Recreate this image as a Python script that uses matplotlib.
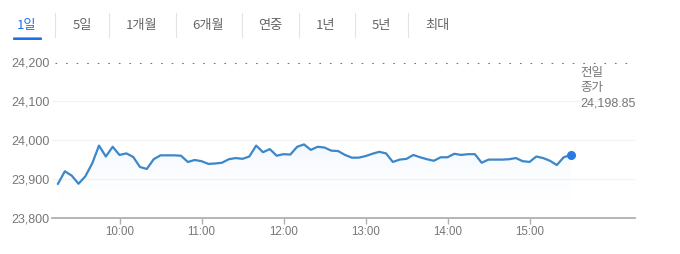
import matplotlib
matplotlib.use('Agg')
import matplotlib.pyplot as plt
import numpy as np
from matplotlib.patches import Polygon, FancyBboxPatch
from matplotlib.lines import Line2D

plt.rcParams['font.family'] = ['Liberation Sans', 'Noto Sans CJK KR', 'DejaVu Sans']

# ---- data ----
tabs = ['1일', '5일', '1개월', '6개월', '연중', '1년', '5년', '최대']
selected_tab = 0

start_hour = 9.25      # 09:15
step_minutes = 5
values = [
    23888, 23920, 23909, 23888, 23907, 23940, 23986, 23958, 23983, 23962,
    23966, 23957, 23931, 23926, 23951, 23961, 23961, 23961, 23960, 23944,
    23949, 23946, 23939, 23940, 23942, 23951, 23954, 23952, 23958, 23986,
    23969, 23977, 23960, 23964, 23963, 23983, 23989, 23975, 23983, 23981,
    23973, 23972, 23962, 23955, 23955, 23959, 23965, 23970, 23966, 23944,
    23950, 23952, 23962, 23956, 23951, 23947, 23956, 23956, 23965, 23962,
    23964, 23964, 23942, 23950, 23950, 23950, 23951, 23954, 23946, 23944,
    23958, 23954, 23947, 23936, 23956, 23962,
]
prev_close = 24198.85
prev_close_label = ['전일', '종가', '24,198.85']
yticks = [23800, 23900, 24000, 24100, 24200]
ytick_labels = ['23,800', '23,900', '24,000', '24,100', '24,200']
xticks = [10, 11, 12, 13, 14, 15]
xtick_labels = ['10:00', '11:00', '12:00', '13:00', '14:00', '15:00']

times = start_hour + np.arange(len(values)) * step_minutes / 60.0

W, H = 680, 254
fig = plt.figure(figsize=(W / 100, H / 100), dpi=100)

def fx(px):
    return px / W

def fy(py):
    return 1 - py / H

# ---- tabs ----
tab_x = [27, 82, 142, 208, 270, 326, 381, 437]
sep_x = [55, 109, 176, 242, 299, 355, 408]
for i, (t, x) in enumerate(zip(tabs, tab_x)):
    fig.text(fx(x), fy(25), t, ha='center', va='center', fontsize=9.5,
             family=['Noto Sans CJK KR', 'DejaVu Sans'],
             color='#1a73e8' if i == selected_tab else '#666666')
for x in sep_x:
    fig.add_artist(Line2D([fx(x), fx(x)], [fy(13), fy(37)], color='#e3e3e3', lw=0.8))
fig.add_artist(FancyBboxPatch((fx(13), fy(40)), fx(29), 2.6 / H,
                              boxstyle='round,pad=0,rounding_size=0.002',
                              transform=fig.transFigure, color='#1a73e8', lw=0))

# ---- chart ----
left, right, top, bottom = 52, 635, 62.3, 218
ax = fig.add_axes([fx(left), fy(bottom), (right - left) / W, (bottom - top) / H])
px_per_hour = 82.0
x0_px = 119.5
xlim = (10 + (left - x0_px) / px_per_hour, 10 + (right - x0_px) / px_per_hour)
ax.set_xlim(*xlim)
ax.set_ylim(23800, 24200)

for s in ['top', 'right', 'left']:
    ax.spines[s].set_visible(False)
ax.spines['bottom'].set_color('#b0b0b0')
ax.spines['bottom'].set_linewidth(1.3)

for y in yticks[1:-1]:
    ax.axhline(y, color='#f2f2f2', lw=0.8, zorder=0)
ax.axhline(prev_close, xmin=(55 - left) / (right - left), color='#777777', lw=0.8,
           linestyle=(0, (1.5, 8)), zorder=1, clip_on=False)

ax.set_yticks(yticks)
ax.set_yticklabels(ytick_labels)
ax.set_xticks(xticks)
ax.set_xticklabels(xtick_labels)
ax.tick_params(axis='y', length=0, pad=2, labelsize=9, labelcolor='#777777')
ax.tick_params(axis='x', direction='out', length=4, width=1, color='#b0b0b0',
               pad=2, labelsize=8.3, labelcolor='#777777')

# gradient fill under the line
verts = [(times[0], 23800)] + list(zip(times, values)) + [(times[-1], 23800)]
poly = Polygon(verts, closed=True, facecolor='none', edgecolor='none')
ax.add_patch(poly)
grad = np.linspace(1, 0, 256).reshape(-1, 1)
rgba = np.zeros((256, 1, 4))
rgba[..., 0] = 0.30
rgba[..., 1] = 0.60
rgba[..., 2] = 0.92
rgba[..., 3] = 0.07 * grad ** 2
im = ax.imshow(rgba, extent=[times[0], times[-1], 23800, max(values)],
               aspect='auto', zorder=1, origin='upper')
im.set_clip_path(poly)

ax.plot(times, values, color='#3d87c9', lw=1.6, zorder=3, solid_joinstyle='round')
ax.plot([times[-1]], [values[-1]], 'o', color='#2a7be0', ms=5.5, zorder=4)

for i, line in enumerate(prev_close_label):
    fig.text(fx(580.5), fy(73.5 + 14.8 * i), line, ha='left', va='center',
             fontsize=9, color='#777777')

fig.savefig('out.png', dpi=100)
